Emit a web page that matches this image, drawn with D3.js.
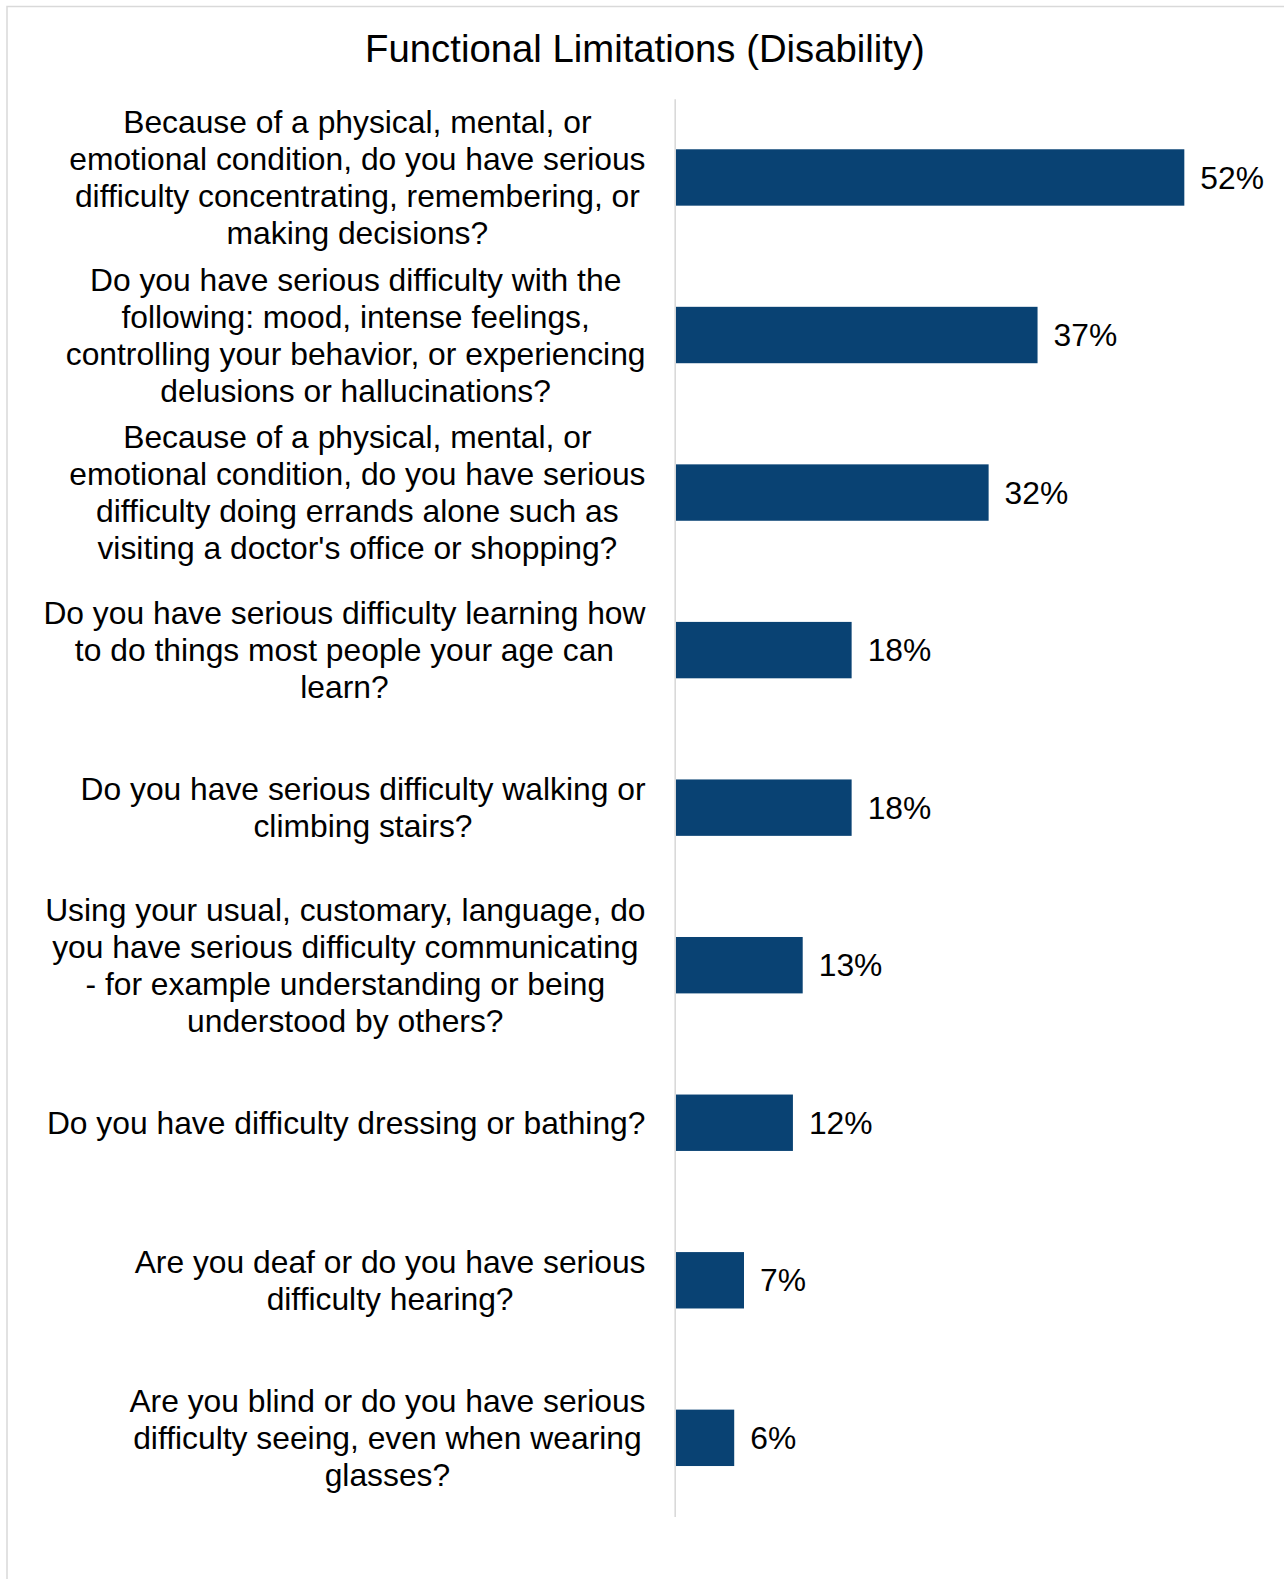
<!DOCTYPE html>
<html>
<head>
<meta charset="utf-8">
<script src="https://cdn.jsdelivr.net/npm/d3@7"></script>
<style>
  html, body { margin: 0; padding: 0; background: #ffffff; }
  svg { display: block; }
  text { font-family: "Liberation Sans", Arial, sans-serif; fill: #000000; }
</style>
</head>
<body>
<svg id="chart" width="1284" height="1579"></svg>
<script>
// Questions, each split into the lines it is printed on
const categories = [
  ["Because of a physical, mental, or", "emotional condition, do you have serious", "difficulty concentrating, remembering, or", "making decisions?"],
  ["Do you have serious difficulty with the", "following: mood, intense feelings,", "controlling your behavior, or experiencing", "delusions or hallucinations?"],
  ["Because of a physical, mental, or", "emotional condition, do you have serious", "difficulty doing errands alone such as", "visiting a doctor's office or shopping?"],
  ["Do you have serious difficulty learning how", "to do things most people your age can", "learn?"],
  ["Do you have serious difficulty walking or", "climbing stairs?"],
  ["Using your usual, customary, language, do", "you have serious difficulty communicating", "- for example understanding or being", "understood by others?"],
  ["Do you have difficulty dressing or bathing?"],
  ["Are you deaf or do you have serious", "difficulty hearing?"],
  ["Are you blind or do you have serious", "difficulty seeing, even when wearing", "glasses?"]
];
// Share of respondents (%)
const values = [52, 37, 32, 18, 18, 13, 12, 7, 6];
const chartTitle = "Functional Limitations (Disability)";

const svg = d3.select("#chart");
const barColor = "#094273";
const gridColor = "#d9d9d9";

// Outer frame of the chart area
svg.append("rect")
  .attr("x", 7).attr("y", 6.5)
  .attr("width", 1300).attr("height", 1600)
  .attr("fill", "none")
  .attr("stroke", gridColor)
  .attr("stroke-width", 1.5);

// Title
svg.append("text")
  .attr("x", 645)
  .attr("y", 61.5)
  .attr("text-anchor", "middle")
  .attr("font-size", "38.3px")
  .text(chartTitle);

const plotLeft = 675.5;
const pxPerUnit = 9.785;
const x = d3.scaleLinear().domain([0, 60]).range([plotLeft, plotLeft + 60 * pxPerUnit]);

const idx = d3.range(categories.length);
const y = d3.scaleBand()
  .domain(idx)
  .range([98.7, 1516.6])
  .paddingInner(0.642)
  .paddingOuter(0.321);

// Bars
svg.append("g")
  .selectAll("rect")
  .data(idx)
  .join("rect")
  .attr("x", x(0))
  .attr("y", i => y(i))
  .attr("width", i => x(values[i]) - x(0))
  .attr("height", y.bandwidth())
  .attr("fill", barColor);

// Category axis line (no ticks)
const axisG = svg.append("g")
  .attr("transform", `translate(${plotLeft - 0.8},0)`)
  .call(d3.axisLeft(y).tickSize(0).tickSizeOuter(0).tickFormat(""));
axisG.select(".domain").attr("stroke", gridColor).attr("stroke-width", 1.6);
axisG.selectAll(".tick").remove();

// Value labels
svg.append("g")
  .selectAll("text")
  .data(idx)
  .join("text")
  .attr("x", i => x(values[i]) + 16)
  .attr("y", i => y(i) + y.bandwidth() / 2)
  .attr("dy", "0.35em")
  .attr("font-size", "31.8px")
  .text(i => values[i] + "%");

// Category labels: each block is right-aligned, lines centred within the block
const labelRight = 645.5;
const lineHeight = 37;
const labelG = svg.append("g").attr("font-size", "31.8px");
idx.forEach(i => {
  const lines = categories[i];
  const cy = y(i) + y.bandwidth() / 2;
  const t = labelG.append("text").attr("text-anchor", "middle");
  const spans = lines.map((line, k) =>
    t.append("tspan")
      .attr("y", cy + (k - (lines.length - 1) / 2) * lineHeight)
      .attr("dy", "0.35em")
      .text(line)
  );
  const maxW = d3.max(spans, s => s.node().getComputedTextLength());
  spans.forEach(s => s.attr("x", labelRight - maxW / 2));
});
</script>
</body>
</html>
